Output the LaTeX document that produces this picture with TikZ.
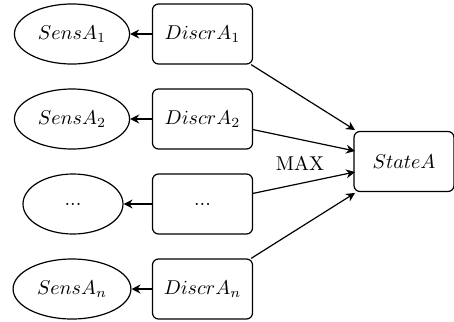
\documentclass[tikz,border=0pt]{standalone}
\usetikzlibrary{shapes.geometric,arrows.meta}
\begin{document}
\begin{tikzpicture}[x=0.5pt,y=-0.5pt,semithick,
  sens/.style={draw,ellipse,minimum width=50pt,minimum height=30pt},
  discr/.style={draw,rectangle,rounded corners=3pt,minimum width=50pt,minimum height=30pt},
  conn/.style={-{Stealth[length=4.5pt,width=4.5pt,inset=1.5pt]}}]
\useasboundingbox (0,0) rectangle (454,321);
\node[sens] (s1) at (72,34) {$SensA_1$};
\node[sens] (s2) at (72,119) {$SensA_2$};
\node[sens] (s3) at (73,204) {...};
\node[sens] (s4) at (72,289) {$SensA_n$};
\node[discr] (d1) at (202.5,34) {$DiscrA_1$};
\node[discr] (d2) at (202.5,119) {$DiscrA_2$};
\node[discr] (d3) at (202.5,204) {...};
\node[discr] (d4) at (202.5,289) {$DiscrA_n$};
\node[discr] (st) at (404,161.5) {$StateA$};
\node (max) at (300,163) {MAX};
\coordinate (e1) at (355,130);
\coordinate (e2) at (355,151);
\coordinate (e3) at (355,172);
\coordinate (e4) at (355,193);
\draw[conn] (d1) -- (s1);
\draw[conn] (d2) -- (s2);
\draw[conn] (d3) -- (s3);
\draw[conn] (d4) -- (s4);
\draw[conn] (d1) -- (e1);
\draw[conn] (d2) -- (e2);
\draw[conn] (d3) -- (e3);
\draw[conn] (d4) -- (e4);
\end{tikzpicture}
\end{document}
